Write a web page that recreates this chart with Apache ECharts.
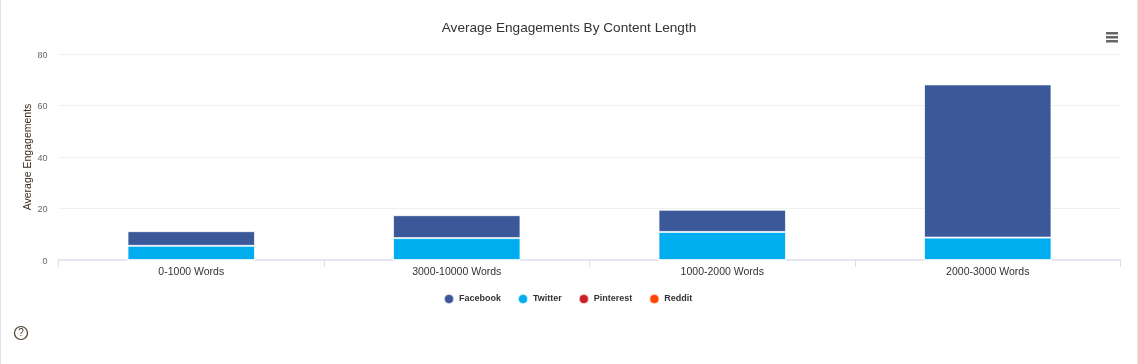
<!DOCTYPE html>
<html><head><meta charset="utf-8">
<style>html,body{margin:0;padding:0;background:#fff}#c{width:1138px;height:364px}</style>
<script src="https://cdn.jsdelivr.net/npm/echarts@6/dist/echarts.min.js"></script>
</head><body><div id="c"></div>
<script>
const categories = ['0-1000 Words','3000-10000 Words','1000-2000 Words','2000-3000 Words'];
const facebook = [5.7, 8.9, 8.6, 59.5];
const twitter = [5.5, 8.5, 10.9, 8.7];
const pinterest = [0, 0, 0, 0];
const reddit = [0, 0, 0, 0];
const legendNames = ['Facebook','Twitter','Pinterest','Reddit'];
const yTicks = {min:0,max:80,interval:20};
const font = '"Liberation Sans",Arial,sans-serif';
const chart = echarts.init(document.getElementById('c'),null,{renderer:'canvas'});
function s(name,data,color){return {name,type:'bar',stack:'a',data,barWidth:'48%',
  itemStyle:{color,borderColor:'rgba(255,255,255,0.7)',borderWidth:1},animation:false};}
chart.setOption({
  animation:false,
  backgroundColor:'#fff',
  color:['#3b5998','#00aeef','#cb2027','#ff4500'],
  title:{text:'Average Engagements By Content Length',left:564,top:16,textAlign:'center',
    textStyle:{fontFamily:font,fontSize:13.6,fontWeight:'normal',color:'#333',lineHeight:14}},
  legend:{data:legendNames.map((n,i)=>({name:n,itemStyle:{color:['#3b5998','#00aeef','#cb2027','#ff4500'][i]}})),
    left:438,top:288,icon:'circle',itemWidth:10,itemHeight:10,itemGap:16,
    textStyle:{fontFamily:font,fontSize:9,fontWeight:'bold',color:'#333',padding:[0,0,0,0]}},
  grid:{left:58.5,right:17.5,top:54,bottom:104,containLabel:false},
  xAxis:{type:'category',data:categories,
    axisLine:{show:true,lineStyle:{color:'#e3e7f1',width:2}},
    axisTick:{show:true,interval:0,length:7,lineStyle:{color:'#d8deea',width:1}},
    axisLabel:{fontFamily:font,fontSize:10.5,color:'#333',margin:7}},
  yAxis:{type:'value',min:yTicks.min,max:yTicks.max,interval:yTicks.interval,
    name:'Average Engagements',nameLocation:'middle',nameGap:25,nameMoveOverlap:false,
    nameTextStyle:{fontFamily:font,fontSize:10.5,color:'#3a2a1a'},
    axisLine:{show:false},axisTick:{show:false},
    splitLine:{lineStyle:{color:'#f0f0f0',width:1}},
    axisLabel:{fontFamily:font,fontSize:9,color:'#666',margin:11,verticalAlign:'top',lineHeight:3}},
  series:[s('Reddit',reddit,'#ff4500'),s('Pinterest',pinterest,'#cb2027'),s('Twitter',twitter,'#00aeef'),s('Facebook',facebook,'#3b5998')],
  graphic:[
    {type:'rect',silent:true,shape:{x:0,y:0,width:1,height:364},style:{fill:'#e3e3e3'}},
    {type:'rect',silent:true,shape:{x:1137,y:0,width:1,height:364},style:{fill:'#e3e3e3'}},
    {type:'rect',silent:true,shape:{x:1106,y:32,width:12,height:2.5},style:{fill:'#666'}},
    {type:'rect',silent:true,shape:{x:1106,y:36,width:12,height:2.5},style:{fill:'#666'}},
    {type:'rect',silent:true,shape:{x:1106,y:40,width:12,height:2.5},style:{fill:'#666'}},
    {type:'circle',silent:true,shape:{cx:21,cy:333,r:6.5},style:{fill:'none',stroke:'#4a3a2a',lineWidth:1.2}},
    {type:'text',silent:true,x:21,y:333,style:{text:'?',fontFamily:font,fontSize:10,fill:'#4a3a2a',align:'center',verticalAlign:'middle'}}
  ]
});
</script></body></html>
